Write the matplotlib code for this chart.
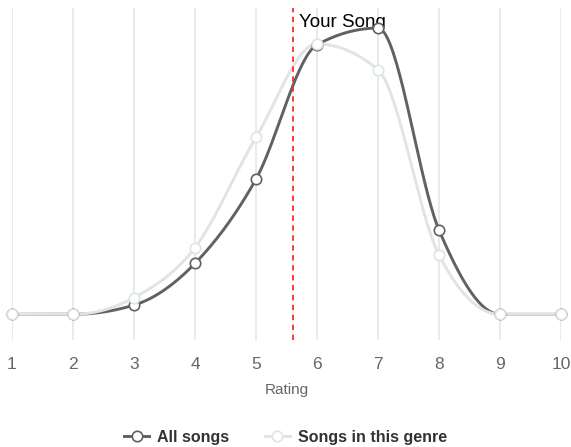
import numpy as np
import matplotlib.pyplot as plt

plt.rcParams['font.family'] = ['Liberation Sans', 'DejaVu Sans']

ratings = [1, 2, 3, 4, 5, 6, 7, 8, 9, 10]
all_songs = [0, 0, 1.1, 6.1, 16.2, 32.3, 34.3, 10.1, 0, 0]   # % of songs
genre_songs = [0, 0, 2.0, 8.0, 21.2, 32.4, 29.3, 7.1, 0, 0]
your_song = 5.6


def monotone_x(x, y, n=40):
    # d3 curveMonotoneX style interpolation
    x = np.asarray(x, float)
    y = np.asarray(y, float)
    h = np.diff(x)
    s = np.diff(y) / h
    m = np.zeros(len(x))
    for i in range(1, len(x) - 1):
        s0, s1 = s[i - 1], s[i]
        p = (s0 * h[i] + s1 * h[i - 1]) / (h[i - 1] + h[i])
        m[i] = (np.sign(s0) + np.sign(s1)) * min(abs(s0), abs(s1), 0.5 * abs(p))
    m[0] = (3 * s[0] - m[1]) / 2
    m[-1] = (3 * s[-1] - m[-2]) / 2
    xs, ys = [], []
    for i in range(len(x) - 1):
        t = np.linspace(0, 1, n)
        h00 = 2 * t**3 - 3 * t**2 + 1
        h10 = t**3 - 2 * t**2 + t
        h01 = -2 * t**3 + 3 * t**2
        h11 = t**3 - t**2
        xs.append(x[i] + t * h[i])
        ys.append(h00 * y[i] + h10 * h[i] * m[i] + h01 * y[i + 1] + h11 * h[i] * m[i + 1])
    return np.concatenate(xs), np.concatenate(ys)


fig = plt.figure(figsize=(5.71, 4.47), dpi=100)
ax = fig.add_axes([0.021, 0.239, 0.9615, 0.743])

dark = '#616161'
light = '#dfe5e6'

for vals, col, lab in [(all_songs, dark, 'All songs'), (genre_songs, light, 'Songs in this genre')]:
    sx, sy = monotone_x(ratings, vals)
    ax.plot(sx, sy, color=col, lw=2.1, clip_on=False, zorder=3)
    ax.plot(ratings, vals, 'o', color=col, mfc='white', mec=col, mew=1.2, ms=7.5,
            clip_on=False, zorder=4)
    ax.plot([], [], '-o', color=col, mfc='white', mec=col, mew=1.2, ms=7.5, lw=2.1, label=lab)

ax.axvline(your_song, color='#ff2a2a', lw=1.3, ls=(0, (3, 2.5)), zorder=5)
ax.text(your_song + 0.1, 35.0, 'Your Song', fontsize=13.5, color='black',
        va='center', ha='left', zorder=2)

ax.set_xlim(1, 10)
ax.set_ylim(-3.1, 36.7)
ax.set_xticks(ratings)
ax.set_yticks([])
ax.grid(axis='x', color='#e6e6e6', lw=1.2)
ax.set_axisbelow(True)
for sp in ax.spines.values():
    sp.set_visible(False)
ax.tick_params(axis='x', length=0, pad=12, labelsize=12.5, labelcolor='#666666')
ax.set_xlabel('Rating', fontsize=11, color='#666666', labelpad=8)

leg = fig.legend(loc='center', bbox_to_anchor=(0.5, 0.022), ncol=2, frameon=False,
                 handlelength=1.6, columnspacing=2.2, handletextpad=0.5,
                 prop={'weight': 'bold', 'size': 11.5})
for t in leg.get_texts():
    t.set_color('#333333')

fig.savefig('out.png', dpi=100)
